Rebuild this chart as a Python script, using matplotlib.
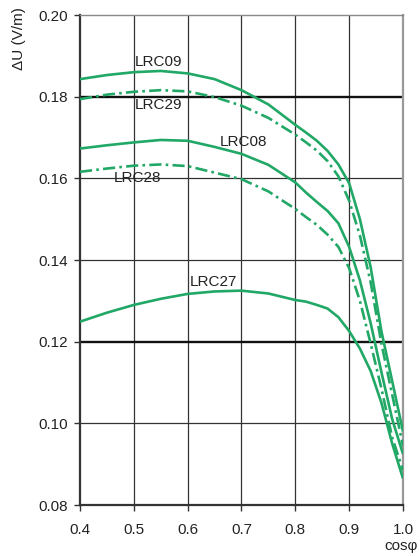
import matplotlib
matplotlib.use("Agg")
import matplotlib.pyplot as plt

plt.rcParams['font.family'] = ['Liberation Sans', 'DejaVu Sans']

# power factor samples
cos_phi = [0.40, 0.45, 0.50, 0.55, 0.60, 0.65, 0.70, 0.75, 0.80, 0.82,
           0.84, 0.86, 0.88, 0.90, 0.92, 0.94, 0.96, 0.98, 1.00]

# voltage drop per metre (V/m) for each cable
lrc09 = [0.1843, 0.1853, 0.1860, 0.1863, 0.1857, 0.1843, 0.1816, 0.1781, 0.1731, 0.1712,
         0.1692, 0.1667, 0.1634, 0.1588, 0.1500, 0.1382, 0.1225, 0.1103, 0.0980]
lrc29 = [0.1794, 0.1805, 0.1812, 0.1816, 0.1813, 0.1799, 0.1778, 0.1748, 0.1707, 0.1688,
         0.1668, 0.1642, 0.1605, 0.1545, 0.1460, 0.1345, 0.1195, 0.1070, 0.0945]
lrc08 = [0.1673, 0.1681, 0.1688, 0.1694, 0.1692, 0.1677, 0.1660, 0.1633, 0.1590, 0.1565,
         0.1542, 0.1520, 0.1490, 0.1432, 0.1350, 0.1245, 0.1125, 0.1010, 0.0925]
lrc28 = [0.1616, 0.1624, 0.1631, 0.1634, 0.1630, 0.1614, 0.1598, 0.1568, 0.1525, 0.1505,
         0.1486, 0.1462, 0.1432, 0.1380, 0.1300, 0.1195, 0.1085, 0.0965, 0.0885]
lrc27 = [0.1249, 0.1271, 0.1290, 0.1305, 0.1317, 0.1323, 0.1325, 0.1318, 0.1302, 0.1298,
         0.1290, 0.1281, 0.1260, 0.1226, 0.1183, 0.1128, 0.1050, 0.0950, 0.0865]

series = [
    ("LRC09", lrc09, "solid", (0.502, 0.1885)),
    ("LRC29", lrc29, "dashdot", (0.502, 0.1780)),
    ("LRC08", lrc08, "solid", (0.660, 0.1690)),
    ("LRC28", lrc28, "dashdot", (0.463, 0.1600)),
    ("LRC27", lrc27, "solid", (0.604, 0.1346)),
]

x_ticks = [0.4, 0.5, 0.6, 0.7, 0.8, 0.9, 1.0]
x_tick_labels = ["0.4", "0.5", "0.6", "0.7", "0.8", "0.9", "1.0"]
y_ticks = [0.08, 0.10, 0.12, 0.14, 0.16, 0.18, 0.20]
y_tick_labels = ["0.08", "0.10", "0.12", "0.14", "0.16", "0.18", "0.20"]

green = "#22a866"

fig = plt.figure(figsize=(4.2, 5.56), dpi=100)
ax = fig.add_axes([0.1905, 0.0917, 0.769, 0.8813])
ax.set_xlim(0.4, 1.0)
ax.set_ylim(0.08, 0.20)

# grid
for xv in x_ticks[1:-1]:
    ax.axvline(xv, color="#333333", lw=0.9, zorder=1)
for yv in y_ticks[1:-1]:
    heavy = yv in (0.12, 0.18)
    ax.axhline(yv, color="#111111" if heavy else "#333333",
               lw=1.7 if heavy else 0.9, zorder=1)

for name, vals, style, (tx, ty) in series:
    line, = ax.plot(cos_phi, vals, color=green, lw=1.9, zorder=3,
                    solid_capstyle="butt", solid_joinstyle="round",
                    dash_joinstyle="round")
    if style == "dashdot":
        line.set_dashes((4.6, 1.6, 1.0, 1.6))
    ax.text(tx, ty, name, fontsize=11, color="#222222", ha="left",
            va="center", zorder=4)

ax.set_xticks(x_ticks)
ax.set_xticklabels(x_tick_labels)
ax.set_yticks(y_ticks)
ax.set_yticklabels(y_tick_labels)
ax.tick_params(axis="both", direction="out", length=4, width=1,
               color="#333333", labelsize=11, labelcolor="#222222", pad=5)
ax.tick_params(axis="x", pad=9)

for side in ("left", "bottom"):
    ax.spines[side].set_color("#333333")
    ax.spines[side].set_linewidth(1.6)
ax.spines["top"].set_color("#888888")
ax.spines["top"].set_linewidth(1.0)
ax.spines["right"].set_color("#999999")
ax.spines["right"].set_linewidth(1.6)

fig.text(0.045, 0.987, "ΔU (V/m)", rotation=90, ha="center", va="top",
         fontsize=11, color="#222222")
fig.text(0.955, 0.018, "cosφ", ha="center", va="center",
         fontsize=11, color="#222222")

fig.savefig("out.png", dpi=100)
